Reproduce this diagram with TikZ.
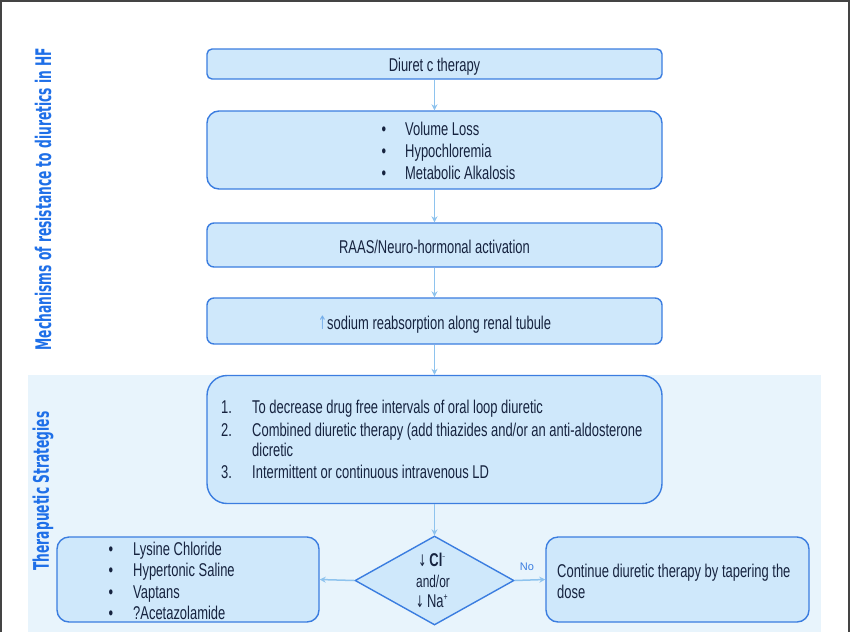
\documentclass[tikz,border=0pt]{standalone}
\usepackage{fontspec}
\setmainfont{Liberation Sans}[FakeStretch=0.70]
\newfontfamily\labfont{DejaVu Sans}[FakeStretch=0.57]
\newfontfamily\nofont{Liberation Sans}
\newfontfamily\arrfont{DejaVu Sans}[FakeStretch=0.6]
\usetikzlibrary{shapes.geometric,arrows.meta}
\definecolor{boxfill}{HTML}{CFE8FB}
\definecolor{boxline}{HTML}{3B7DE0}
\definecolor{arrcol}{HTML}{8EC3EE}
\definecolor{txtcol}{HTML}{16233F}
\definecolor{shadecol}{HTML}{E8F4FC}
\definecolor{labcol}{HTML}{1E6FE8}
\definecolor{framecol}{HTML}{444444}
\tikzset{
  flowbox/.style={draw=boxline, fill=boxfill, line width=1.4pt, rounded corners=5pt,
    minimum width=455pt, inner sep=0pt},
  decbox/.style={draw=boxline, fill=boxfill, line width=1.4pt, diamond, inner sep=0pt,
    minimum width=159pt, minimum height=89pt},
  txt/.style={text=txtcol, font=\fontsize{18.5}{20}\selectfont, inner sep=0pt,
    text height=12.5pt, text depth=0pt},
  lab/.style={text=labcol, font=\labfont\bfseries\fontsize{21.5}{24}\selectfont, rotate=90, inner sep=0pt},
  flow/.style={draw=arrcol, line width=1.5pt, -{Stealth[length=6pt,width=6pt]}},
}
\begin{document}
\begin{tikzpicture}[x=1pt,y=-1pt]
\useasboundingbox (0,0) rectangle (850,632);
\fill[white] (0,0) rectangle (850,632);
\fill[shadecol] (28,375) rectangle (821,632);
\draw[framecol, line width=2pt] (1,632) -- (1,1) -- (849,1) -- (849,632);

% boxes
\node[flowbox, minimum height=30pt] (b1) at (434.5,64) {};
\node[flowbox, minimum height=78pt, rounded corners=12pt] (b2) at (434.5,150) {};
\node[flowbox, minimum height=44pt, rounded corners=7pt] (b3) at (434.5,245) {};
\node[flowbox, minimum height=46pt, rounded corners=7pt] (b4) at (434.5,321) {};
\node[flowbox, minimum height=128pt, rounded corners=20pt] (b5) at (434.5,439.5) {};
\node[decbox] (d) at (434.5,580.5) {};
\node[flowbox, minimum width=262pt, minimum height=85pt, rounded corners=12pt] (lb) at (188,579.5) {};
\node[flowbox, minimum width=263pt, minimum height=85pt, rounded corners=12pt] (rb) at (677.5,579.5) {};

% texts
\node[txt] (t1) at (434.5,65) {Diuret c therapy};
\node[txt] (t2a) at (384,129) {•};
\node[txt] (t2b) at (384,151) {•};
\node[txt] (t2c) at (384,173) {•};
\node[txt, anchor=west] (t2d) at (405,129) {Volume Loss};
\node[txt, anchor=west] (t2e) at (405,151) {Hypochloremia};
\node[txt, anchor=west] (t2f) at (405,173) {Metabolic Alkalosis};
\node[txt] (t3) at (434.5,247) {RAAS/Neuro-hormonal activation};
\node[txt] (t4) at (434.5,323) {{\arrfont\color{arrcol!70!boxline}↑}sodium reabsorption along renal tubule};

\node[txt, anchor=west] (n1) at (221,407) {1.};
\node[txt, anchor=west] (n2) at (221,430) {2.};
\node[txt, anchor=west] (n3) at (221,472) {3.};
\node[txt, anchor=west] (s1) at (252,407) {To decrease drug free intervals of oral loop diuretic};
\node[txt, anchor=west] (s2) at (252,430) {Combined diuretic therapy (add thiazides and/or an anti-aldosterone};
\node[txt, anchor=west] (s2b) at (252,450) {dicretic};
\node[txt, anchor=west] (s3) at (252,472) {Intermittent or continuous intravenous LD};

\node[txt] (l1) at (111,549) {•};
\node[txt] (l2) at (111,570) {•};
\node[txt] (l3) at (111,592) {•};
\node[txt] (l4) at (111,613) {•};
\node[txt, anchor=west] (m1) at (133,549) {Lysine Chloride};
\node[txt, anchor=west] (m2) at (133,570) {Hypertonic Saline};
\node[txt, anchor=west] (m3) at (133,592) {Vaptans};
\node[txt, anchor=west] (m4) at (133,613) {?Acetazolamide};

\node[txt, anchor=west] (r1) at (557,571) {Continue diuretic therapy by tapering the};
\node[txt, anchor=west] (r2) at (557,592) {dose};

\node[txt] (dt1) at (432,560) {{\arrfont\fontsize{16}{16}\selectfont↓}\,\textbf{Cl}\textsuperscript{\fontsize{7}{7}\selectfont −}};
\node[txt, font=\fontsize{17}{18}\selectfont, text height=11pt] (dt2) at (433,582) {and/or};
\node[txt] (dt3) at (432,601) {{\arrfont\fontsize{16}{16}\selectfont↓}\,Na\textsuperscript{\fontsize{10}{10}\selectfont +}};

\node[text=boxline, font=\nofont\fontsize{11}{12}\selectfont, inner sep=0pt] (no) at (527,567) {No};

% side labels
\node[lab] (lab1) at (43,199) {Mechanisms of resistance to diuretics in HF};
\node[lab] (lab2) at (43,491) {Therapuetic Strategies};

% connectors
\draw[flow] (b1) -- (b2);
\draw[flow] (b2) -- (b3);
\draw[flow] (b3) -- (b4);
\draw[flow] (b4) -- (b5);
\draw[flow] (b5) -- (d);
\draw[flow] (d.west) -- (lb.east);
\draw[flow] (d.east) -- (rb.west);
\end{tikzpicture}
\end{document}
